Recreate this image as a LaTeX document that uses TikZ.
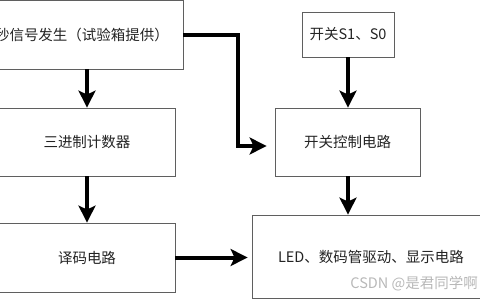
\documentclass[tikz,border=0pt]{standalone}
\usepackage{fontspec}
\setmainfont{Noto Sans CJK SC}
\usetikzlibrary{arrows.meta,positioning}
\definecolor{boxline}{RGB}{95,95,95}
\definecolor{txtcol}{RGB}{35,35,35}
\tikzset{
  blk/.style={rectangle,draw=boxline,line width=0.8pt,inner sep=0pt,text=txtcol,font=\fontsize{14.5}{17}\selectfont},
  flow arrow/.style={-{Stealth[length=17pt,width=17pt,inset=4pt]},line width=4pt},
  wm text/.style={text=black!28,font=\fontsize{14.5}{16}\selectfont,inner sep=0pt}
}

\begin{document}
\begin{tikzpicture}[x=1pt,y=-1pt]
  \useasboundingbox (0,0) rectangle (480,300);
  \node[blk,minimum width=202pt,minimum height=69pt] (clk) at (82,34.5) {秒信号发生（试验箱提供）};
  \node[blk,minimum width=176pt,minimum height=68pt] (cnt) at (87,142) {三进制计数器};
  \node[blk,minimum width=176pt,minimum height=69pt] (dec) at (87,257.5) {译码电路};
  \node[blk,minimum width=92pt,minimum height=45pt] (sw) at (348,34.5) {开关S1、S0};
  \node[blk,minimum width=145pt,minimum height=68pt] (swctl) at (347.5,142) {开关控制电路};
  \node[blk,minimum width=238pt,minimum height=83pt] (disp) at (371,256.5) {LED、数码管驱动、显示电路};
  \node[wm text,anchor=east] (wm) at (478,284) {CSDN @是君同学啊};
  \draw[flow arrow] (clk.south -| cnt.north) -- (cnt.north);
  \draw[flow arrow] (cnt.south) -- (dec.north);
  \draw[flow arrow] (sw.south) -- (sw.south |- swctl.north);
  \draw[flow arrow] (swctl.south -| sw.south) -- (sw.south |- disp.north);
  \draw[flow arrow,shorten >=8pt] (clk.east) -- ++(55,0) |- ([yshift=-4pt]swctl.west);
  \draw[flow arrow,shorten >=4pt] (dec.east) -- (dec.east -| disp.west);
\end{tikzpicture}
\end{document}
